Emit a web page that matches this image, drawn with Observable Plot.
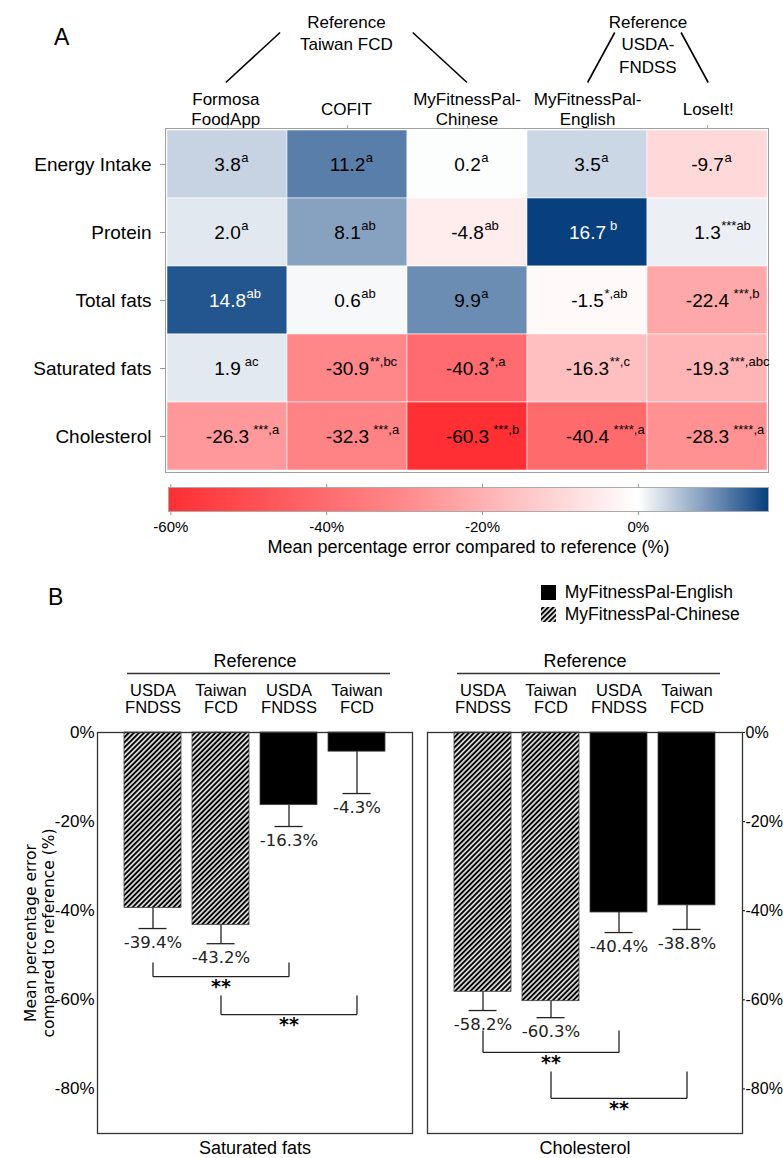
<!DOCTYPE html>
<html>
<head>
<meta charset="utf-8">
<script src="https://cdn.jsdelivr.net/npm/d3@7"></script>
<script src="https://cdn.jsdelivr.net/npm/@observablehq/plot@0.6"></script>
<style>
  html, body { margin: 0; padding: 0; background: #fff; }
  #root { position: relative; width: 783px; height: 1158px; overflow: hidden; background: #fff;
          font-family: "Liberation Sans", Arial, Helvetica, sans-serif; color: #000; }
  .letter { position: absolute; font-size: 23px; line-height: 1; }
</style>
</head>
<body>
<div id="root">
  <svg width="0" height="0" style="position:absolute;left:0;top:0">
    <defs>
      <pattern id="hatch" patternUnits="userSpaceOnUse" width="3.6" height="3.6" patternTransform="rotate(45)">
        <rect width="3.6" height="3.6" fill="white"></rect>
        <line x1="1.8" y1="0" x2="1.8" y2="3.6" stroke="black" stroke-width="2.1"></line>
      </pattern>
    </defs>
  </svg>
  <div class="letter" style="left:54px;top:26px">A</div>
  <div class="letter" style="left:48px;top:586px">B</div>
</div>
<script>
// ---------------- DATA ----------------
// Panel A: heatmap
const apps = ["Formosa FoodApp", "COFIT", "MyFitnessPal-Chinese", "MyFitnessPal-English", "LoseIt!"];
const appLabels = ["Formosa\nFoodApp", "COFIT", "MyFitnessPal-\nChinese", "MyFitnessPal-\nEnglish", "LoseIt!"];
const nutrients = ["Energy Intake", "Protein", "Total fats", "Saturated fats", "Cholesterol"];

const mpeEnergy      = [3.8, 11.2, 0.2, 3.5, -9.7];
const mpeProtein     = [2.0, 8.1, -4.8, 16.7, 1.3];
const mpeTotalFats   = [14.8, 0.6, 9.9, -1.5, -22.4];
const mpeSatFats     = [1.9, -30.9, -40.3, -16.3, -19.3];
const mpeCholesterol = [-26.3, -32.3, -60.3, -40.4, -28.3];

const supEnergy      = ["a", "a", "a", "a", "a"];
const supProtein     = ["a", "ab", "ab", " b", "***ab"];
const supTotalFats   = ["ab", "ab", "a", "*,ab", " ***,b"];
const supSatFats     = [" ac", "**,bc", "*,a", "**,c", "***,abc"];
const supCholesterol = [" ***,a", " ***,a", " ***,b", " ****,a", " ****,a"];

const referenceGroups = [
  {label: "Reference\nTaiwan FCD", apps: ["Formosa FoodApp", "MyFitnessPal-Chinese"]},
  {label: "Reference\nUSDA-\nFNDSS", apps: ["MyFitnessPal-English", "LoseIt!"]}
];

const colorMidRed = -30;
const colorRange = ["#ff2f33", "#ff8a8c", "#ffffff", "#073f7f"];
const colorTicks = [-60, -40, -20, 0];
const colorbarTitle = "Mean percentage error compared to reference (%)";

// Panel B: bars
const nutrientsB = ["Saturated fats", "Cholesterol"];
const barKeys = ["MyFitnessPal-Chinese|USDA FNDSS", "MyFitnessPal-Chinese|Taiwan FCD",
                 "MyFitnessPal-English|USDA FNDSS", "MyFitnessPal-English|Taiwan FCD"];
const barApps = ["MyFitnessPal-Chinese", "MyFitnessPal-Chinese", "MyFitnessPal-English", "MyFitnessPal-English"];
const barRefLabels = ["USDA\nFNDSS", "Taiwan\nFCD", "USDA\nFNDSS", "Taiwan\nFCD"];
const satFatsMPE = [-39.4, -43.2, -16.3, -4.3];
const satFatsErr = [4.6, 4.2, 4.8, 9.4];
const cholMPE    = [-58.2, -60.3, -40.4, -38.8];
const cholErr    = [4.2, 3.7, 4.5, 5.4];

const legendApps  = ["MyFitnessPal-English", "MyFitnessPal-Chinese"];
const legendFills = ["black", "url(#hatch)"];

const bracketNutrient = ["Saturated fats", "Saturated fats", "Cholesterol", "Cholesterol"];
const bracketFrom   = [barKeys[0], barKeys[1], barKeys[0], barKeys[1]];
const bracketTo     = [barKeys[2], barKeys[3], barKeys[2], barKeys[3]];
const bracketTop    = [-51.6, -59.0, -66.9, -76.1];
const bracketBottom = [-54.8, -63.3, -71.8, -82.1];
const bracketLabel  = ["**", "**", "**", "**"];

const yTicksB = [0, -20, -40, -60, -80];
const yDomainB = [-90, 0];
const yTitleB = "Mean percentage error\ncompared to reference (%)";

// ---------------- BUILD ----------------
const FONT = '"Liberation Sans", Arial, Helvetica, sans-serif';
const NUMFONT = '"DejaVu Sans", Verdana, sans-serif';
const root = document.getElementById("root");
function place(node, left, top) {
  node.style.position = "absolute";
  node.style.left = left + "px";
  node.style.top = top + "px";
  root.appendChild(node);
  return node;
}

const heatRows = [mpeEnergy, mpeProtein, mpeTotalFats, mpeSatFats, mpeCholesterol];
const supRows = [supEnergy, supProtein, supTotalFats, supSatFats, supCholesterol];
const cells = nutrients.flatMap((n, r) => apps.map((a, c) => ({nutrient: n, app: a, value: heatRows[r][c], sup: supRows[r][c]})));
const cMin = d3.min(cells, d => d.value), cMax = d3.max(cells, d => d.value);
const colorOpts = {type: "linear", domain: [cMin, colorMidRed, 0, cMax], range: colorRange, interpolate: "rgb"};
const lightText = cells.filter(d => d.value > 12);
const darkText = cells.filter(d => d.value <= 12);

// header (column labels + reference groups)
const colLabelRise = 20, linkBottomRise = 46, linkTopRise = 96, linkSlant = 0.45, groupLabelRise = 117;
const groupLinks = referenceGroups.flatMap(g => {
  const centers = g.apps.map(a => apps.indexOf(a) + 0.5);
  const mid = d3.mean(centers);
  return centers.map(c => ({x1: c, y1: linkBottomRise, x2: c + (mid - c) * linkSlant, y2: linkTopRise}));
});
const groupLabels = referenceGroups.map(g => ({label: g.label, x: d3.mean(g.apps, a => apps.indexOf(a) + 0.5)}));

const header = Plot.plot({
  width: 783, height: 128, marginTop: 0, marginBottom: 0, marginLeft: 165, marginRight: 15,
  style: {fontFamily: FONT, fontSize: "17px", background: "transparent", overflow: "visible"},
  x: {domain: [0, apps.length], axis: null},
  y: {domain: [0, 128], range: [128, 0], axis: null},
  marks: [
    Plot.text(apps, {x: (d, i) => i + 0.5, y: () => colLabelRise, text: (d, i) => appLabels[i],
      lineAnchor: "middle", lineHeight: 1.18, fontSize: 17}),
    Plot.link(groupLinks, {x1: "x1", y1: "y1", x2: "x2", y2: "y2", stroke: "black", strokeWidth: 1.6}),
    Plot.text(groupLabels, {x: "x", y: () => groupLabelRise, text: "label", lineAnchor: "top", lineHeight: 1.33, fontSize: 17})
  ]
});
place(header, 0, 0);

const heat = Plot.plot({
  width: 783, height: 362, marginTop: 10, marginBottom: 8, marginLeft: 165, marginRight: 15,
  style: {fontFamily: FONT, fontSize: "19px", background: "transparent", overflow: "visible"},
  x: {domain: apps, padding: 0},
  y: {domain: nutrients, padding: 0},
  color: colorOpts,
  marks: [
    Plot.cell(cells, {x: "app", y: "nutrient", fill: "value", stroke: "white", strokeOpacity: 0.55, strokeWidth: 1}),
    Plot.frame({stroke: "#a0a0a0"}),
    Plot.axisY({anchor: "left", tickSize: 5, tickPadding: 9, fontSize: 19, stroke: "#999", fill: "black", label: null}),
    Plot.axisX({anchor: "top", tickSize: 4, tickFormat: () => "", stroke: "#aaa", label: null}),
    Plot.text(darkText, {x: "app", y: "nutrient", text: d => d.value.toFixed(1), fill: "black", fontSize: 19}),
    Plot.text(lightText, {x: "app", y: "nutrient", text: d => d.value.toFixed(1), fill: "white", fontSize: 19})
  ]
});
place(heat, 0, 118);

// superscripts (significance letters) appended right after each value text
(function addSuperscripts() {
  const byLabel = new Map(cells.map(d => [d.value.toFixed(1), d]));
  const targets = Array.from(heat.querySelectorAll("text")).filter(el => byLabel.has(el.textContent.trim()));
  targets.forEach(el => {
    const d = byLabel.get(el.textContent.trim());
    const bb = el.getBBox();
    const s = document.createElementNS("http://www.w3.org/2000/svg", "text");
    const gap = d.sup.startsWith(" ") ? 4 : 0.5;
    const tr = el.getAttribute("transform");
    if (tr) s.setAttribute("transform", tr);
    s.setAttribute("x", bb.x + bb.width + gap);
    s.setAttribute("y", bb.y + 8.5);
    s.setAttribute("font-size", 13);
    s.setAttribute("text-anchor", "start");
    s.textContent = d.sup.trim();
    el.parentNode.appendChild(s);
  });
})();

// colorbar
const cbar = Plot.plot({
  width: 783, height: 84, marginTop: 9, marginBottom: 51, marginLeft: 168, marginRight: 15,
  style: {fontFamily: FONT, fontSize: "15px", background: "transparent", overflow: "visible"},
  x: {domain: [cMin, cMax]},
  y: {domain: [0, 1], axis: null},
  color: colorOpts,
  marks: [
    Plot.raster({x1: cMin, x2: cMax, y1: 0, y2: 1, width: 600, height: 1, fill: (x, y) => x}),
    Plot.frame({stroke: "#aaa"}),
    Plot.axisX({anchor: "bottom", ticks: colorTicks, tickFormat: d => `${d}%`, tickSize: 4, tickPadding: 6, fontSize: 15, stroke: "#999", fill: "black", label: null}),
    Plot.axisX({anchor: "top", ticks: colorTicks, tickFormat: () => "", tickSize: 4, stroke: "#999", label: null}),
    Plot.text([colorbarTitle], {frameAnchor: "bottom", dy: 41, fontSize: 18})
  ]
});
place(cbar, 0, 478);

// panel B
const barRows = nutrientsB.flatMap((n, r) => barKeys.map((k, c) => ({
  nutrient: n, key: k, app: barApps[c],
  value: [satFatsMPE, cholMPE][r][c], err: [satFatsErr, cholErr][r][c]
})));
const brackets = bracketNutrient.map((n, i) => ({
  nutrient: n, from: bracketFrom[i], to: bracketTo[i], top: bracketTop[i], bottom: bracketBottom[i],
  label: bracketLabel[i], mid: barKeys[barKeys.indexOf(bracketFrom[i]) + 1]
}));
const refLabelByKey = Object.fromEntries(barKeys.map((k, i) => [k, barRefLabels[i]]));
const LINE = "#222";

const bars = Plot.plot({
  width: 783, height: 528, marginTop: 102, marginBottom: 25, marginLeft: 97, marginRight: 41,
  style: {fontFamily: FONT, fontSize: "17px", background: "transparent", overflow: "visible"},
  fx: {domain: nutrientsB, paddingInner: 15 / 330, paddingOuter: 0},
  x: {domain: barKeys, paddingInner: 0.16, paddingOuter: 0.39},
  y: {domain: yDomainB},
  color: {type: "ordinal", domain: legendApps, range: legendFills},
  marks: [
    Plot.barY(barRows, {fx: "nutrient", x: "key", y: "value", fill: "app", stroke: "#444", strokeWidth: 0.8}),
    Plot.frame({stroke: "#333", strokeWidth: 1.3}),
    Plot.ruleX(barRows, {fx: "nutrient", x: "key", y1: "value", y2: d => d.value - d.err, stroke: LINE, strokeWidth: 1.3}),
    Plot.tickY(barRows, {fx: "nutrient", x: "key", y: d => d.value - d.err, insetLeft: 14.5, insetRight: 14.5, stroke: LINE, strokeWidth: 1.3}),
    Plot.text(barRows, {fx: "nutrient", x: "key", y: d => d.value - d.err, dy: 14, text: d => d.value.toFixed(1) + "%",
      fontFamily: NUMFONT, fontSize: 16.5, fill: LINE}),
    Plot.link(brackets, {fx: "nutrient", x1: "from", x2: "from", y1: "top", y2: "bottom", stroke: LINE, strokeWidth: 1.3}),
    Plot.link(brackets, {fx: "nutrient", x1: "to", x2: "to", y1: "top", y2: "bottom", stroke: LINE, strokeWidth: 1.3}),
    Plot.link(brackets, {fx: "nutrient", x1: "from", x2: "to", y1: "bottom", y2: "bottom", stroke: LINE, strokeWidth: 1.3}),
    Plot.text(brackets, {fx: "nutrient", x: "mid", y: "bottom", text: "label", lineAnchor: "top", dy: 3,
      fontFamily: NUMFONT, fontWeight: "bold", fontSize: 19}),
    Plot.text(["Reference"], {frameAnchor: "top", dy: -78, fontSize: 18}),
    Plot.ruleY([0], {dy: -59, insetLeft: 30, insetRight: 22, stroke: "#333", strokeWidth: 1.3}),
    Plot.axisX({anchor: "top", tickSize: 0, tickPadding: 20, fontSize: 16.5, tickFormat: k => refLabelByKey[k], label: null}),
    Plot.axisY({anchor: "left", ticks: yTicksB, tickFormat: d => `${d}%`, tickSize: 0, tickPadding: 3, fontSize: 17, label: null}),
    Plot.axisY({anchor: "right", ticks: yTicksB, tickFormat: d => `${d}%`, tickSize: 2, tickPadding: 1, fontSize: 16, label: null}),
    Plot.axisFx({anchor: "bottom", tickSize: 0, tickPadding: 8, fontSize: 18, label: null}),
    Plot.text([yTitleB], {fx: () => nutrientsB[0], y: () => d3.mean(yDomainB), frameAnchor: "left", dx: -58, rotate: -90,
      textAnchor: "middle", lineAnchor: "middle", fontFamily: NUMFONT, fontSize: 15.5, lineHeight: 1.12})
  ]
});
place(bars, 0, 630);

const legend = bars.legend("color", {columns: 1, swatchSize: 15, style: {fontFamily: FONT, fontSize: "17.5px"}});
place(legend, 541, 582);
</script>
</body>
</html>
